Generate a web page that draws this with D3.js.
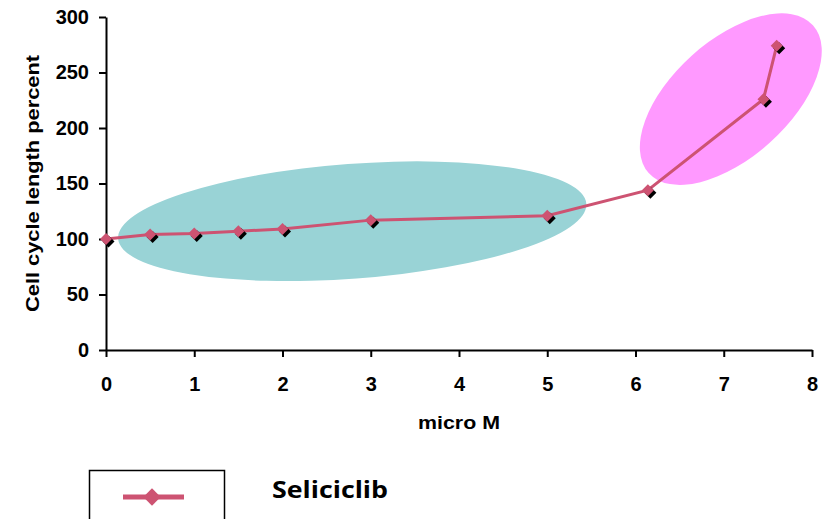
<!DOCTYPE html>
<html>
<head>
<meta charset="utf-8">
<script src="https://cdn.jsdelivr.net/npm/d3@7"></script>
<style>
    body { margin: 0; background: #fff; }
    .axis text { font-family: "Liberation Sans", Arial, sans-serif; font-weight: bold; font-size: 20px; fill: #000; }
    .axis path, .axis line { stroke: #000; stroke-width: 2; }
    .title { font-family: "Liberation Sans", Arial, sans-serif; font-weight: bold; font-size: 19px; fill: #000; }
</style>
</head>
<body>
<div id="chart"></div>
<script>
// Dataset
const doses = [0, 0.5, 1, 1.5, 2, 3, 5, 6.14, 7.45, 7.6]
const cycleLength = [100, 104, 105, 107, 109, 117, 121, 144, 226, 274]
const xTicks = [0, 1, 2, 3, 4, 5, 6, 7, 8]
const yTicks = [0, 50, 100, 150, 200, 250, 300]
const seriesName = "Seliciclib"

// highlighted groups (data units): center, radius along x / y, tilt in degrees
const groupCenters = [[2.79, 116], [7.08, 226]]
const groupRadii = [[2.66, 51.7], [1.252, 52.7]]
const groupTilt = [-4.3, -42]

function draw() {
    const dataset = doses.map((d, i) => ({ dose: d, length: cycleLength[i] }))
    const xAccessor = (d) => d.dose
    const yAccessor = (d) => d.length

    // Dimensions
    let dimensions = {
        width: 822,
        height: 519,
        margin: { top: 17, bottom: 169, left: 106, right: 10 },
    }
    dimensions.ctnrWidth = dimensions.width - dimensions.margin.left - dimensions.margin.right
    dimensions.ctnrHeight = dimensions.height - dimensions.margin.top - dimensions.margin.bottom

    const svg = d3.select("#chart")
        .append("svg")
        .attr("width", dimensions.width)
        .attr("height", dimensions.height)

    const ctnr = svg.append("g")
        .attr("transform", `translate(${dimensions.margin.left}, ${dimensions.margin.top})`)

    const xScale = d3.scaleLinear()
        .domain([0, 8])
        .range([0, dimensions.ctnrWidth])

    const yScale = d3.scaleLinear()
        .domain([0, 300])
        .range([dimensions.ctnrHeight, 0])

    // Ellipses behind the series
    const groupColors = ["#99d3d6", "#ff99ff"]
    groupCenters.forEach((c, i) => {
        const rx = xScale(c[0] + groupRadii[i][0]) - xScale(c[0])
        const ry = yScale(0) - yScale(groupRadii[i][1])
        ctnr.append("ellipse")
            .attr("transform", `translate(${xScale(c[0])}, ${yScale(c[1])}) rotate(${groupTilt[i]})`)
            .attr("rx", rx)
            .attr("ry", ry)
            .attr("fill", groupColors[i])
    })

    // Axes
    const xAxis = d3.axisBottom(xScale)
        .tickValues(xTicks)
        .tickSize(7)
        .tickPadding(20)
        .tickSizeOuter(0)
    ctnr.append("g")
        .attr("transform", `translate(0, ${dimensions.ctnrHeight})`)
        .classed("axis", true)
        .call(xAxis)

    const yAxis = d3.axisLeft(yScale)
        .tickValues(yTicks)
        .tickSize(7)
        .tickPadding(10)
        .tickSizeOuter(0)
    ctnr.append("g")
        .classed("axis", true)
        .call(yAxis)

    svg.append("text")
        .classed("title", true)
        .attr("x", dimensions.margin.left + dimensions.ctnrWidth / 2)
        .attr("y", 429)
        .attr("text-anchor", "middle")
        .attr("textLength", 82)
        .attr("lengthAdjust", "spacingAndGlyphs")
        .text("micro M")

    svg.append("text")
        .classed("title", true)
        .attr("transform", `translate(39, ${dimensions.margin.top + dimensions.ctnrHeight / 2}) rotate(-90)`)
        .attr("text-anchor", "middle")
        .attr("textLength", 257)
        .attr("lengthAdjust", "spacingAndGlyphs")
        .text("Cell cycle length percent")

    // Line
    const lineColor = "#cd5372"
    const line = d3.line()
        .x((d) => xScale(xAccessor(d)))
        .y((d) => yScale(yAccessor(d)))

    ctnr.append("path")
        .datum(dataset)
        .attr("d", line)
        .attr("fill", "none")
        .attr("stroke", lineColor)
        .attr("stroke-width", 3)

    const marker = d3.symbol(d3.symbolSquare, 72)

    ctnr.selectAll(".shadow")
        .data(dataset)
        .join("path")
        .classed("shadow", true)
        .attr("d", marker)
        .attr("transform", (d) => `translate(${xScale(xAccessor(d)) + 2.5}, ${yScale(yAccessor(d)) + 2.5}) rotate(45)`)
        .attr("fill", "#000")

    ctnr.selectAll(".marker")
        .data(dataset)
        .join("path")
        .classed("marker", true)
        .attr("d", marker)
        .attr("transform", (d) => `translate(${xScale(xAccessor(d))}, ${yScale(yAccessor(d))}) rotate(45)`)
        .attr("fill", lineColor)

    // Legend
    const legend = svg.append("g")
    legend.append("rect")
        .attr("x", 89.5)
        .attr("y", 470.5)
        .attr("width", 135)
        .attr("height", 60)
        .attr("fill", "none")
        .attr("stroke", "#000")
        .attr("stroke-width", 1.5)
    legend.append("line")
        .attr("x1", 123)
        .attr("x2", 184)
        .attr("y1", 497)
        .attr("y2", 497)
        .attr("stroke", lineColor)
        .attr("stroke-width", 5)
    legend.append("path")
        .attr("d", d3.symbol(d3.symbolSquare, 150)())
        .attr("transform", "translate(152, 497) rotate(45)")
        .attr("fill", lineColor)
    legend.append("text")
        .attr("x", 272)
        .attr("y", 498)
        .attr("font-family", "'Open Sans', sans-serif")
        .attr("font-weight", 700)
        .attr("font-size", 23)
        .attr("textLength", 116)
        .attr("lengthAdjust", "spacingAndGlyphs")
        .text(seriesName)
}

draw();
</script>
</body>
</html>
